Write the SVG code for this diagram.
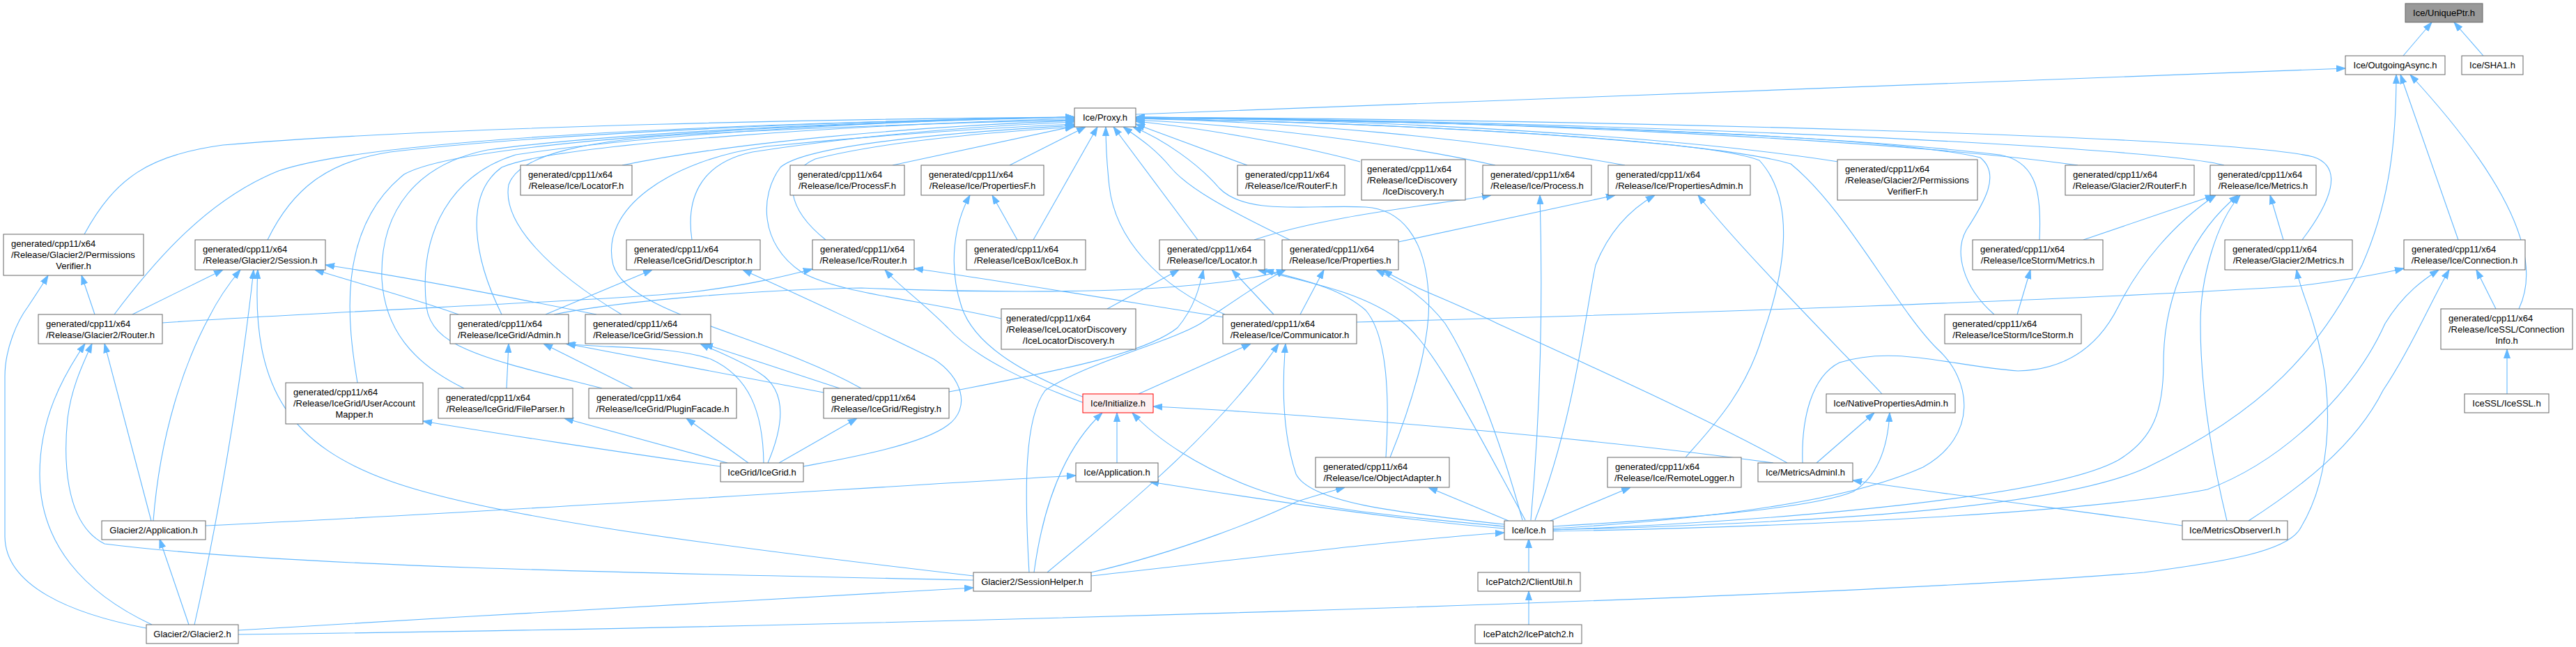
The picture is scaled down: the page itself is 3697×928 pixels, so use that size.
<svg xmlns="http://www.w3.org/2000/svg" width="3697" height="928" viewBox="0 0 3697 928">
<style>
.node rect{fill:#ffffff;stroke:#666666;stroke-width:1}
.node text{font-family:"Liberation Sans",Arial,Helvetica,sans-serif;font-size:13px;fill:#000000}
.node text.m{text-anchor:middle}
#n_uniqueptr rect{fill:#999999}
#n_initialize rect{fill:#fff0f0;stroke:#ff0000}
.edges path{fill:none;stroke:#63b8ff;stroke-width:1.1;marker-end:url(#ah)}
</style>
<defs>
<marker id="ah" markerUnits="userSpaceOnUse" markerWidth="13" markerHeight="10" viewBox="0 0 13 10" refX="13" refY="5" orient="auto"><path d="M0,0.5 L13,5 L0,9.5 z" fill="#63b8ff" stroke="#63b8ff" stroke-width="1"/></marker>
</defs>
<rect x="0" y="0" width="3697" height="928" fill="#ffffff"/>
<g class="edges">
<path d="M3449,80 L3490,32"/>
<path d="M3564,80 L3522,32"/>
<path d="M1630,164 L3366,98"/>
<path d="M3528,344 L3445,107"/>
<path d="M3615,443 C3650,370 3600,260 3459,107"/>
<path d="M2229,760 C2600,750 2950,730 3080,671 C3250,590 3330,500 3390,380 C3430,290 3439,200 3439,107"/>
<path d="M121,336 C165,255 215,222 320,208 C650,180 1250,170 1542,168"/>
<path d="M164,451 C225,370 300,285 400,245 C520,205 900,180 1542,168"/>
<path d="M384,344 C420,270 470,232 560,218 C800,190 1250,172 1542,168"/>
<path d="M513,549 C500,470 480,330 580,250 C660,205 1100,178 1542,168"/>
<path d="M666,557 C590,520 552,470 548,400 C545,300 600,235 700,215 C900,188 1300,172 1542,168"/>
<path d="M864,557 C700,515 620,500 612,440 C600,330 650,250 740,222 C950,190 1300,172 1542,168"/>
<path d="M720,451 C680,370 665,280 720,240 C800,205 1250,178 1542,170"/>
<path d="M892,451 C790,390 720,320 730,265 C745,220 850,200 1000,192 C1200,182 1400,175 1542,172"/>
<path d="M993,344 C985,290 1000,235 1080,218 C1250,192 1420,180 1542,175"/>
<path d="M893,237 C1050,205 1300,182 1542,173"/>
<path d="M1236,557 C1100,480 900,450 880,380 C860,300 960,230 1100,210 C1300,190 1450,182 1542,178"/>
<path d="M1437,457 C1320,430 1200,420 1150,390 C1090,350 1090,280 1120,240 C1160,205 1400,188 1542,180"/>
<path d="M1185,344 C1130,300 1120,250 1170,228 C1280,200 1450,188 1542,182"/>
<path d="M1281,237 L1542,181"/>
<path d="M1449,237 L1558,182"/>
<path d="M1483,344 L1575,182"/>
<path d="M1758,451 C1660,410 1600,340 1592,267 C1588,230 1587,205 1587,182"/>
<path d="M1719,344 L1598,182"/>
<path d="M1851,344 C1760,300 1705,270 1680,240 C1655,210 1630,195 1612,182"/>
<path d="M1995,656 C2030,570 2055,480 2050,420 C2045,340 2010,300 1960,297 C1880,293 1790,310 1750,270 C1720,235 1670,200 1626,182"/>
<path d="M1790,237 L1630,178"/>
<path d="M1952,232 C1850,205 1720,183 1630,174"/>
<path d="M2146,237 C2000,205 1800,180 1630,172"/>
<path d="M2332,237 C2100,195 1850,175 1630,170"/>
<path d="M2638,232 C2400,195 2000,172 1630,168"/>
<path d="M2982,237 C2700,198 2100,172 1630,168"/>
<path d="M3192,237 C3100,212 2400,176 1630,168"/>
<path d="M3304,344 C3345,290 3365,240 3320,225 C3200,195 2300,172 1630,168"/>
<path d="M2927,344 C2930,280 2925,232 2870,222 C2600,190 2100,174 1630,169"/>
<path d="M2862,451 C2815,410 2805,360 2822,330 C2848,290 2872,250 2842,226 C2700,192 2100,174 1630,169"/>
<path d="M2419,656 C2455,615 2505,565 2530,480 C2560,395 2580,290 2525,230 C2450,200 2000,176 1630,170"/>
<path d="M2229,758 C2450,745 2650,720 2760,670 C2840,625 2830,545 2780,500 C2720,440 2650,300 2570,235 C2450,200 2000,176 1630,170"/>
<path d="M136,451 L117,395"/>
<path d="M210,901 C100,880 8,840 7,770 L7,540 C7,500 25,460 40,440 C50,425 60,410 69,395"/>
<path d="M190,451 L320,387"/>
<path d="M220,747 C230,620 265,520 300,455 C315,425 330,405 345,387"/>
<path d="M279,896 C310,760 345,560 364,387"/>
<path d="M1397,826 C1000,780 700,740 560,690 C420,640 360,560 370,387"/>
<path d="M658,451 C600,430 520,408 452,387"/>
<path d="M856,451 C750,430 600,400 467,380"/>
<path d="M233,463 C500,445 900,430 1000,418 C1080,408 1130,395 1166,386"/>
<path d="M217,747 L150,493"/>
<path d="M218,896 C120,850 57,780 57,680 C57,600 90,540 122,493"/>
<path d="M1397,832 C900,822 400,812 150,780 C90,750 92,650 97,600 C102,560 115,530 132,493"/>
<path d="M295,754 C700,735 1200,702 1544,682"/>
<path d="M342,904 C700,882 1100,860 1397,843"/>
<path d="M342,910 C1200,900 2600,860 3077,821 C3200,805 3280,790 3300,760 C3350,680 3350,560 3320,464 C3310,430 3300,410 3296,387"/>
<path d="M271,896 L229,773"/>
<path d="M783,451 L936,387"/>
<path d="M727,557 L730,493"/>
<path d="M908,557 L780,493"/>
<path d="M1182,563 L813,493"/>
<path d="M1205,557 L1010,493"/>
<path d="M1096,664 C1095,590 1075,540 1020,515 C960,495 870,500 812,493"/>
<path d="M1102,664 C1125,610 1130,560 1090,535 C1060,515 1030,505 1005,493"/>
<path d="M1044,664 L810,600"/>
<path d="M1074,664 L985,600"/>
<path d="M1118,664 L1230,600"/>
<path d="M1034,669 C900,650 700,620 607,604"/>
<path d="M1153,669 C1200,660 1320,640 1360,610 C1395,585 1380,540 1340,515 C1280,485 1140,420 1066,387"/>
<path d="M1460,344 L1424,280"/>
<path d="M1556,570 C1480,540 1400,500 1380,440 C1360,380 1370,320 1392,280"/>
<path d="M1556,578 C1480,550 1400,515 1360,470 C1320,430 1290,410 1270,387"/>
<path d="M1634,565 L1795,493"/>
<path d="M1484,821 C1495,740 1520,650 1582,592"/>
<path d="M1603,664 L1603,592"/>
<path d="M2159,755 C2000,740 1880,730 1800,700 C1720,670 1660,630 1625,592"/>
<path d="M2545,664 C2300,630 1900,595 1655,583"/>
<path d="M2159,758 C2000,745 1800,715 1650,691"/>
<path d="M1503,821 C1600,740 1750,620 1835,493"/>
<path d="M2159,752 C2000,735 1880,720 1860,680 C1840,620 1840,550 1845,493"/>
<path d="M1477,821 C1470,700 1470,600 1500,560 C1560,520 1680,490 1723,464 C1760,440 1800,410 1845,387"/>
<path d="M1566,821 C1700,790 1820,740 1860,720 C1890,710 1910,705 1930,699"/>
<path d="M1566,826 C1800,800 2000,775 2159,764"/>
<path d="M1756,455 C1600,430 1450,405 1312,385"/>
<path d="M1828,451 L1768,387"/>
<path d="M1866,451 L1900,387"/>
<path d="M1947,462 C2400,450 3000,430 3300,410 C3380,400 3420,392 3450,385"/>
<path d="M1589,443 L1692,387"/>
<path d="M1362,562 C1500,535 1640,510 1690,470 C1715,440 1722,410 1727,387"/>
<path d="M1989,656 C1995,560 1990,480 1960,445 C1920,410 1860,400 1815,387"/>
<path d="M2189,746 C2120,620 2060,500 2015,464 C1960,420 1880,405 1805,387"/>
<path d="M795,451 C900,430 1100,415 1236,413 C1400,420 1600,420 1700,410 C1760,405 1810,398 1845,387"/>
<path d="M1800,344 C1900,310 2050,295 2140,280"/>
<path d="M2007,347 L2318,280"/>
<path d="M2197,746 C2210,600 2215,450 2210,280"/>
<path d="M2203,746 C2260,600 2275,450 2290,380 C2310,330 2340,300 2375,280"/>
<path d="M2701,565 C2650,510 2500,360 2437,280"/>
<path d="M2185,746 C2150,620 2110,520 2074,464 C2040,420 2000,400 1975,387"/>
<path d="M2565,664 C2450,600 2250,510 2149,464 C2080,430 2020,410 1985,387"/>
<path d="M2165,747 L2050,699"/>
<path d="M2225,747 L2340,699"/>
<path d="M2607,664 L2690,592"/>
<path d="M2229,755 C2400,745 2600,730 2660,705 C2700,680 2710,630 2712,592"/>
<path d="M2587,664 C2585,600 2600,540 2640,520 C2720,495 2800,525 2896,532 C2980,530 3020,480 3040,440 C3070,380 3120,320 3180,280"/>
<path d="M2990,344 C3060,320 3120,300 3178,280"/>
<path d="M2229,760 C2600,745 2950,710 3040,660 C3090,630 3105,590 3105,520 C3105,420 3150,330 3212,280"/>
<path d="M3196,747 C3175,660 3158,560 3158,464 C3158,400 3180,320 3215,280"/>
<path d="M3277,344 L3258,280"/>
<path d="M2895,451 L2914,387"/>
<path d="M2229,762 C2600,755 3000,735 3168,702 C3280,660 3380,560 3423,464 C3450,420 3480,400 3500,387"/>
<path d="M3227,747 C3300,700 3380,640 3420,560 C3460,500 3490,430 3515,387"/>
<path d="M3582,443 L3554,387"/>
<path d="M3598,565 L3598,501"/>
<path d="M3132,754 C3000,735 2800,710 2659,689"/>
<path d="M2194,821 L2194,773"/>
<path d="M2194,896 L2194,848"/>
</g>
<g id="n_uniqueptr" class="node"><rect x="3452" y="5" width="111" height="27"/><text x="3507.5" y="23" class="m">Ice/UniquePtr.h</text></g>
<g id="n_outgoingasync" class="node"><rect x="3366" y="80" width="143" height="27"/><text x="3437.5" y="98" class="m">Ice/OutgoingAsync.h</text></g>
<g id="n_sha1" class="node"><rect x="3533" y="80" width="88" height="27"/><text x="3577" y="98" class="m">Ice/SHA1.h</text></g>
<g id="n_proxy" class="node"><rect x="1542" y="155" width="88" height="27"/><text x="1586" y="173" class="m">Ice/Proxy.h</text></g>
<g id="n_g2_permissionsverifier" class="node"><rect x="5" y="336" width="201" height="59"/><text x="16" y="354">generated/cpp11/x64</text><text x="16" y="370">/Release/Glacier2/Permissions</text><text x="105.5" y="386" class="m">Verifier.h</text></g>
<g id="n_locatorf" class="node"><rect x="747" y="237" width="160" height="43"/><text x="758" y="255">generated/cpp11/x64</text><text x="827" y="271" class="m">/Release/Ice/LocatorF.h</text></g>
<g id="n_processf" class="node"><rect x="1134" y="237" width="164" height="43"/><text x="1145" y="255">generated/cpp11/x64</text><text x="1216" y="271" class="m">/Release/Ice/ProcessF.h</text></g>
<g id="n_propertiesf" class="node"><rect x="1322" y="237" width="176" height="43"/><text x="1333" y="255">generated/cpp11/x64</text><text x="1410" y="271" class="m">/Release/Ice/PropertiesF.h</text></g>
<g id="n_routerf" class="node"><rect x="1776" y="237" width="154" height="43"/><text x="1787" y="255">generated/cpp11/x64</text><text x="1853" y="271" class="m">/Release/Ice/RouterF.h</text></g>
<g id="n_icediscovery" class="node"><rect x="1954" y="229" width="149" height="58"/><text x="1962" y="247">generated/cpp11/x64</text><text x="1962" y="263">/Release/IceDiscovery</text><text x="2028.5" y="279" class="m">/IceDiscovery.h</text></g>
<g id="n_process" class="node"><rect x="2128" y="237" width="156" height="43"/><text x="2139" y="255">generated/cpp11/x64</text><text x="2206" y="271" class="m">/Release/Ice/Process.h</text></g>
<g id="n_propertiesadmin" class="node"><rect x="2308" y="237" width="204" height="43"/><text x="2319" y="255">generated/cpp11/x64</text><text x="2410" y="271" class="m">/Release/Ice/PropertiesAdmin.h</text></g>
<g id="n_g2_permissionsverifierf" class="node"><rect x="2637" y="229" width="201" height="58"/><text x="2648" y="247">generated/cpp11/x64</text><text x="2648" y="263">/Release/Glacier2/Permissions</text><text x="2737.5" y="279" class="m">VerifierF.h</text></g>
<g id="n_g2_routerf" class="node"><rect x="2964" y="237" width="185" height="43"/><text x="2975" y="255">generated/cpp11/x64</text><text x="3056.5" y="271" class="m">/Release/Glacier2/RouterF.h</text></g>
<g id="n_metrics" class="node"><rect x="3172" y="237" width="152" height="43"/><text x="3183" y="255">generated/cpp11/x64</text><text x="3248" y="271" class="m">/Release/Ice/Metrics.h</text></g>
<g id="n_g2_session" class="node"><rect x="280" y="344" width="187" height="43"/><text x="291" y="362">generated/cpp11/x64</text><text x="373.5" y="378" class="m">/Release/Glacier2/Session.h</text></g>
<g id="n_ig_descriptor" class="node"><rect x="899" y="344" width="192" height="43"/><text x="910" y="362">generated/cpp11/x64</text><text x="995" y="378" class="m">/Release/IceGrid/Descriptor.h</text></g>
<g id="n_router" class="node"><rect x="1166" y="344" width="146" height="43"/><text x="1177" y="362">generated/cpp11/x64</text><text x="1239" y="378" class="m">/Release/Ice/Router.h</text></g>
<g id="n_icebox" class="node"><rect x="1387" y="344" width="171" height="43"/><text x="1398" y="362">generated/cpp11/x64</text><text x="1472.5" y="378" class="m">/Release/IceBox/IceBox.h</text></g>
<g id="n_locator" class="node"><rect x="1664" y="344" width="151" height="43"/><text x="1675" y="362">generated/cpp11/x64</text><text x="1739.5" y="378" class="m">/Release/Ice/Locator.h</text></g>
<g id="n_properties" class="node"><rect x="1840" y="344" width="167" height="43"/><text x="1851" y="362">generated/cpp11/x64</text><text x="1923.5" y="378" class="m">/Release/Ice/Properties.h</text></g>
<g id="n_is_metrics" class="node"><rect x="2831" y="344" width="187" height="43"/><text x="2842" y="362">generated/cpp11/x64</text><text x="2924.5" y="378" class="m">/Release/IceStorm/Metrics.h</text></g>
<g id="n_g2_metrics" class="node"><rect x="3193" y="344" width="183" height="43"/><text x="3204" y="362">generated/cpp11/x64</text><text x="3284.5" y="378" class="m">/Release/Glacier2/Metrics.h</text></g>
<g id="n_connection" class="node"><rect x="3450" y="344" width="174" height="43"/><text x="3461" y="362">generated/cpp11/x64</text><text x="3537" y="378" class="m">/Release/Ice/Connection.h</text></g>
<g id="n_g2_router" class="node"><rect x="55" y="451" width="178" height="42"/><text x="66" y="469">generated/cpp11/x64</text><text x="144" y="485" class="m">/Release/Glacier2/Router.h</text></g>
<g id="n_ig_admin" class="node"><rect x="646" y="451" width="170" height="42"/><text x="657" y="469">generated/cpp11/x64</text><text x="731" y="485" class="m">/Release/IceGrid/Admin.h</text></g>
<g id="n_ig_session" class="node"><rect x="840" y="451" width="180" height="42"/><text x="851" y="469">generated/cpp11/x64</text><text x="930" y="485" class="m">/Release/IceGrid/Session.h</text></g>
<g id="n_icelocatordiscovery" class="node"><rect x="1437" y="443" width="193" height="58"/><text x="1444" y="461">generated/cpp11/x64</text><text x="1444" y="477">/Release/IceLocatorDiscovery</text><text x="1533.5" y="493" class="m">/IceLocatorDiscovery.h</text></g>
<g id="n_communicator" class="node"><rect x="1755" y="451" width="192" height="42"/><text x="1766" y="469">generated/cpp11/x64</text><text x="1851" y="485" class="m">/Release/Ice/Communicator.h</text></g>
<g id="n_icestorm" class="node"><rect x="2791" y="451" width="196" height="42"/><text x="2802" y="469">generated/cpp11/x64</text><text x="2889" y="485" class="m">/Release/IceStorm/IceStorm.h</text></g>
<g id="n_ssl_connectioninfo" class="node"><rect x="3503" y="443" width="189" height="58"/><text x="3514" y="461">generated/cpp11/x64</text><text x="3514" y="477">/Release/IceSSL/Connection</text><text x="3597.5" y="493" class="m">Info.h</text></g>
<g id="n_ig_useraccountmapper" class="node"><rect x="410" y="549" width="197" height="59"/><text x="421" y="567">generated/cpp11/x64</text><text x="421" y="583">/Release/IceGrid/UserAccount</text><text x="508.5" y="599" class="m">Mapper.h</text></g>
<g id="n_ig_fileparser" class="node"><rect x="629" y="557" width="193" height="43"/><text x="640" y="575">generated/cpp11/x64</text><text x="725.5" y="591" class="m">/Release/IceGrid/FileParser.h</text></g>
<g id="n_ig_pluginfacade" class="node"><rect x="845" y="557" width="212" height="43"/><text x="856" y="575">generated/cpp11/x64</text><text x="951" y="591" class="m">/Release/IceGrid/PluginFacade.h</text></g>
<g id="n_ig_registry" class="node"><rect x="1182" y="557" width="180" height="43"/><text x="1193" y="575">generated/cpp11/x64</text><text x="1272" y="591" class="m">/Release/IceGrid/Registry.h</text></g>
<g id="n_initialize" class="node"><rect x="1554" y="565" width="101" height="27"/><text x="1604.5" y="583" class="m">Ice/Initialize.h</text></g>
<g id="n_nativepropertiesadmin" class="node"><rect x="2621" y="565" width="185" height="27"/><text x="2713.5" y="583" class="m">Ice/NativePropertiesAdmin.h</text></g>
<g id="n_icessl" class="node"><rect x="3537" y="565" width="121" height="27"/><text x="3597.5" y="583" class="m">IceSSL/IceSSL.h</text></g>
<g id="n_icegrid" class="node"><rect x="1034" y="664" width="119" height="27"/><text x="1093.5" y="682" class="m">IceGrid/IceGrid.h</text></g>
<g id="n_application" class="node"><rect x="1544" y="664" width="118" height="27"/><text x="1603" y="682" class="m">Ice/Application.h</text></g>
<g id="n_objectadapter" class="node"><rect x="1888" y="656" width="192" height="43"/><text x="1899" y="674">generated/cpp11/x64</text><text x="1984" y="690" class="m">/Release/Ice/ObjectAdapter.h</text></g>
<g id="n_remotelogger" class="node"><rect x="2307" y="656" width="192" height="43"/><text x="2318" y="674">generated/cpp11/x64</text><text x="2403" y="690" class="m">/Release/Ice/RemoteLogger.h</text></g>
<g id="n_metricsadmini" class="node"><rect x="2523" y="664" width="136" height="27"/><text x="2591" y="682" class="m">Ice/MetricsAdminI.h</text></g>
<g id="n_g2_application" class="node"><rect x="146" y="747" width="149" height="27"/><text x="220.5" y="765" class="m">Glacier2/Application.h</text></g>
<g id="n_ice" class="node"><rect x="2159" y="747" width="70" height="27"/><text x="2194" y="765" class="m">Ice/Ice.h</text></g>
<g id="n_metricsobserveri" class="node"><rect x="3132" y="747" width="151" height="27"/><text x="3207.5" y="765" class="m">Ice/MetricsObserverI.h</text></g>
<g id="n_g2_sessionhelper" class="node"><rect x="1397" y="821" width="169" height="27"/><text x="1481.5" y="839" class="m">Glacier2/SessionHelper.h</text></g>
<g id="n_clientutil" class="node"><rect x="2121" y="821" width="147" height="27"/><text x="2194.5" y="839" class="m">IcePatch2/ClientUtil.h</text></g>
<g id="n_glacier2" class="node"><rect x="210" y="896" width="132" height="27"/><text x="276" y="914" class="m">Glacier2/Glacier2.h</text></g>
<g id="n_icepatch2" class="node"><rect x="2117" y="896" width="153" height="27"/><text x="2193.5" y="914" class="m">IcePatch2/IcePatch2.h</text></g>
</svg>
